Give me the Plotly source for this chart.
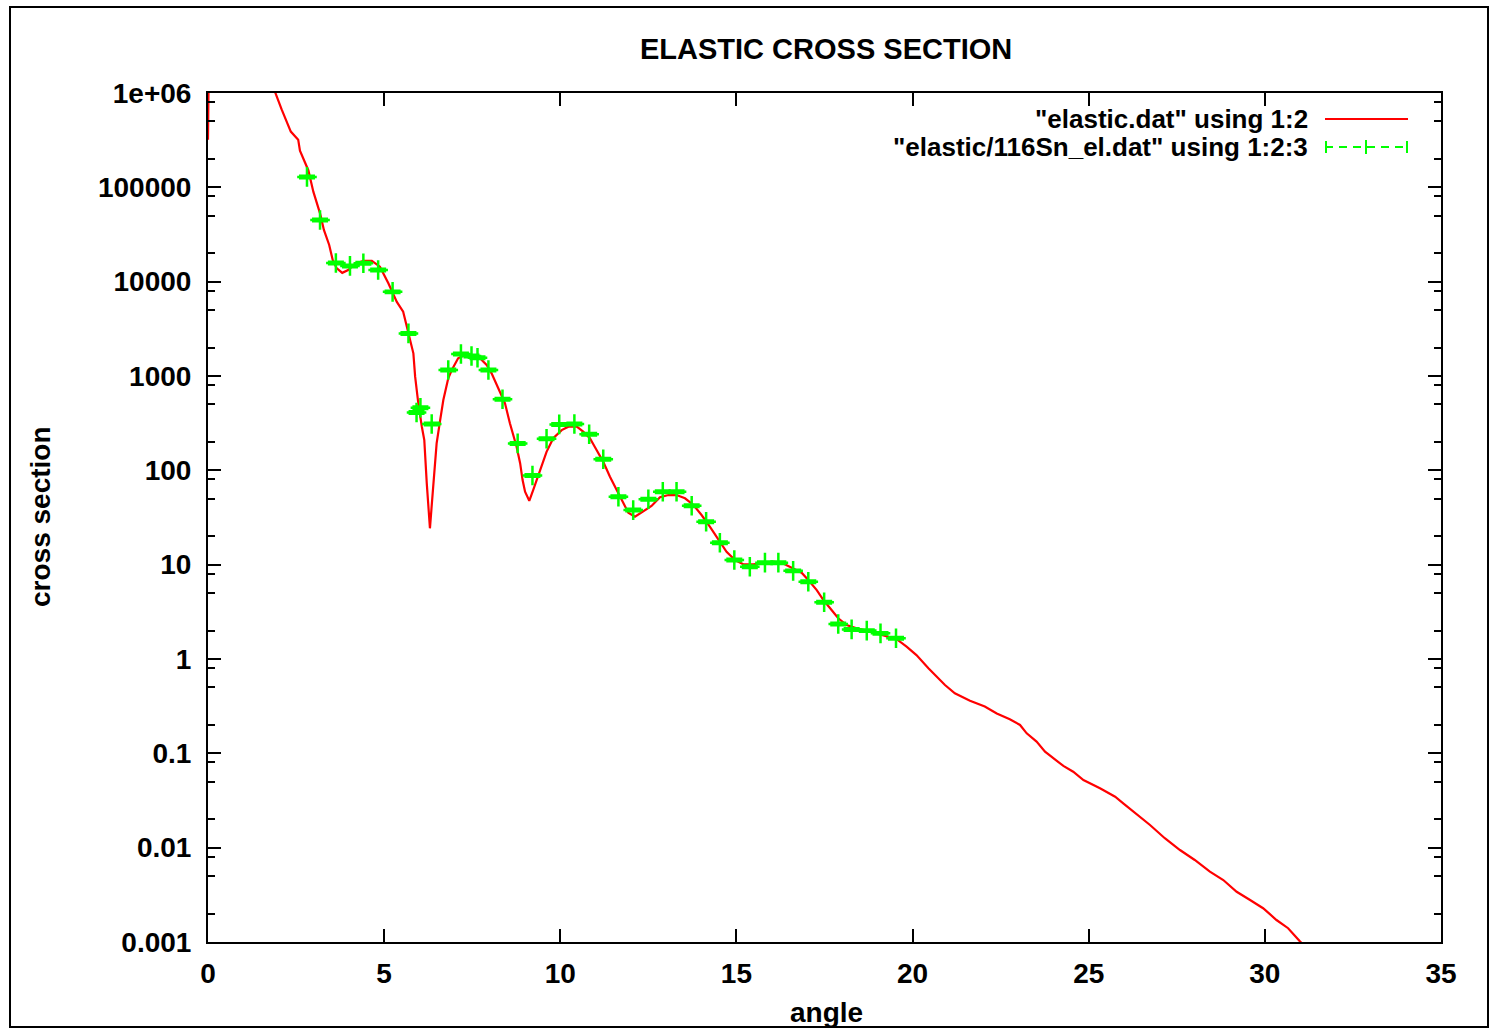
import plotly.graph_objects as go

# ---- data ----
calc_angle = [0.00, 0.06, 1.0, 1.90, 2.09, 2.35, 2.56, 2.61, 2.85, 2.99, 3.18, 3.29, 3.44, 3.54, 3.65, 3.81,
              3.98, 4.17, 4.41, 4.65, 4.88, 5.12, 5.36, 5.54, 5.64, 5.83, 5.88, 5.97, 6.07, 6.14,
              6.21, 6.30, 6.40, 6.49, 6.59, 6.68, 6.82, 6.92, 7.10, 7.30, 7.53, 7.72, 7.91, 8.05,
              8.24, 8.43, 8.57, 8.76, 8.86, 8.93, 9.00, 9.12, 9.23, 9.42, 9.61, 9.80, 10.04, 10.23,
              10.47, 10.65, 10.84, 11.03, 11.22, 11.41, 11.60, 11.79, 11.93, 12.12, 12.36, 12.59,
              12.83, 13.07, 13.30, 13.54, 13.78, 14.01, 14.25, 14.49, 14.72, 14.96, 15.19, 15.48,
              15.76, 16.05, 16.33, 16.61, 16.85, 17.04, 17.28, 17.47, 17.70, 17.89, 18.13, 18.41,
              18.70, 18.98, 19.26, 19.55, 19.83, 20.11, 20.45, 20.92, 21.20, 21.63, 22.05, 22.39,
              22.76, 23.05, 23.24, 23.52, 23.76, 23.99, 24.28, 24.56, 24.85, 25.32, 25.75, 25.98,
              26.36, 26.74, 27.16, 27.59, 28.01, 28.44, 28.82, 29.20, 29.58, 29.95, 30.33, 30.66,
              31.00, 31.30]
calc_xs = [3.2e5, 5e7, 8e6, 1.0e6, 6.7e5, 3.9e5, 3.2e5, 2.45e5, 1.51e5, 9.0e4, 5.3e4, 3.53e4, 2.45e4, 1.70e4,
           1.39e4, 1.24e4, 1.33e4, 1.54e4, 1.66e4, 1.66e4, 1.44e4, 9.6e3, 6.1e3, 4.8e3, 3.33e3,
           1.74e3, 984, 513, 290, 209, 72.8, 24.3, 72.8, 193, 341, 556, 944, 1156, 1542, 1671,
           1629, 1542, 1309, 1067, 741, 513, 315, 178, 119, 78.9, 59.3, 47.6, 61.8, 101, 157,
           219, 267, 290, 290, 257, 219, 164, 123, 85.5, 61.8, 44.7, 35.6, 32.3, 36.5, 41.9,
           51.8, 54.7, 54.7, 50.5, 42.9, 33.6, 25.2, 18.2, 13.7, 11.2, 10.1, 10.1, 10.5, 10.8,
           10.3, 9.14, 8.22, 6.87, 5.38, 4.22, 3.30, 2.70, 2.29, 2.11, 2.00, 1.87, 1.75, 1.62,
           1.35, 1.10, 0.796, 0.530, 0.433, 0.361, 0.313, 0.265, 0.230, 0.200, 0.163, 0.133,
           0.104, 0.0885, 0.0735, 0.0638, 0.0521, 0.0426, 0.0347, 0.0295, 0.0228, 0.0174,
           0.0126, 0.00944, 0.00740, 0.00556, 0.00454, 0.00341, 0.00279, 0.00228, 0.00171,
           0.00140, 0.00101, 0.00079]

exp_angle = [2.81, 3.18, 3.63, 4.03, 4.41, 4.83, 5.24, 5.69, 5.92, 6.03, 6.35, 6.82, 7.18, 7.48, 7.65,
             7.96, 8.36, 8.79, 9.21, 9.61, 9.97, 10.40, 10.82, 11.22, 11.65, 12.07, 12.50, 12.91,
             13.30, 13.73, 14.14, 14.53, 14.94, 15.38, 15.81, 16.19, 16.61, 17.04, 17.49, 17.89,
             18.27, 18.70, 19.09, 19.53]
exp_xs = [1.29e5, 4.5e4, 1.58e4, 1.47e4, 1.57e4, 1.33e4, 7.8e3, 2.83e3, 410, 460, 310, 1157, 1710,
          1630, 1560, 1157, 566, 193, 88, 216, 307, 310, 241, 131, 52.5, 37.9, 49.3, 59.3, 59.3,
          42.2, 28.5, 17.1, 11.2, 9.5, 10.5, 10.5, 8.6, 6.6, 3.99, 2.35, 2.06, 2.0, 1.87, 1.66]

x_ticks = [0, 5, 10, 15, 20, 25, 30, 35]
y_tickvals = [1e6, 1e5, 1e4, 1e3, 1e2, 1e1, 1, 0.1, 0.01, 0.001]
y_ticktext = ["1e+06", "100000", "10000", "1000", "100", "10", "1", "0.1", "0.01", "0.001"]
y_minor = [m * 10 ** e for e in range(-3, 6) for m in (2, 5, 8)]

title_text = "ELASTIC CROSS SECTION"
legend_texts = ['"elastic.dat" using 1:2', '"elastic/116Sn_el.dat" using 1:2:3']

RED = "#ff0000"
GREEN = "#00ff00"
FONT = "Liberation Sans"
FS = 28

fig = go.Figure()
fig.add_trace(go.Scatter(x=calc_angle, y=calc_xs, mode="lines",
                         line=dict(color=RED, width=2.2), showlegend=False))
fig.add_trace(go.Scatter(x=exp_angle, y=exp_xs, mode="markers",
                         marker=dict(symbol="cross-thin", size=14, line=dict(color=GREEN, width=2.5)),
                         error_y=dict(type="percent", value=3, color=GREEN, thickness=2.5, width=8),
                         showlegend=False))

axis_common = dict(showline=True, linecolor="black", linewidth=2, mirror="allticks",
                   ticks="inside", ticklen=13, tickwidth=2, tickcolor="black",
                   showgrid=False, zeroline=False,
                   tickfont=dict(family=FONT, size=FS, color="black", weight="bold"))

fig.update_xaxes(range=[0, 35], tickvals=x_ticks, ticktext=[str(v) for v in x_ticks],
                 ticklabelstandoff=5, **axis_common)
fig.update_yaxes(type="log", range=[-3, 6], tickvals=y_tickvals, ticktext=y_ticktext,
                 ticklabelstandoff=9,
                 minor=dict(tickvals=y_minor, ticks="inside", ticklen=7, tickwidth=2, tickcolor="black"),
                 **axis_common)

L, R, T, B = 208, 1441, 93, 942
W, H = 1493, 1029

def px(xp):
    return (xp - L) / (R - L)

def py(yp):
    return (B - yp) / (B - T)

shapes = [
    # outer border
    dict(type="rect", xref="paper", yref="paper", x0=px(10), x1=px(1488), y0=py(1027), y1=py(7),
         line=dict(color="black", width=2), layer="below"),
    # legend samples
    dict(type="line", xref="paper", yref="paper", x0=px(1325), x1=px(1408), y0=py(119), y1=py(119),
         line=dict(color=RED, width=2.2)),
    dict(type="line", xref="paper", yref="paper", x0=px(1325), x1=px(1408), y0=py(147), y1=py(147),
         line=dict(color=GREEN, width=2, dash="8px,6px")),
    dict(type="line", xref="paper", yref="paper", x0=px(1326), x1=px(1326), y0=py(141), y1=py(153),
         line=dict(color=GREEN, width=2)),
    dict(type="line", xref="paper", yref="paper", x0=px(1407), x1=px(1407), y0=py(141), y1=py(153),
         line=dict(color=GREEN, width=2)),
    dict(type="line", xref="paper", yref="paper", x0=px(1366), x1=px(1366), y0=py(140), y1=py(154),
         line=dict(color=GREEN, width=2)),
]

annotations = [
    dict(text=legend_texts[0], xref="paper", yref="paper", x=px(1310), y=py(119),
         xanchor="right", yanchor="middle", showarrow=False,
         font=dict(family=FONT, size=26, color="black", weight="bold")),
    dict(text=legend_texts[1], xref="paper", yref="paper", x=px(1310), y=py(147),
         xanchor="right", yanchor="middle", showarrow=False,
         font=dict(family=FONT, size=26, color="black", weight="bold")),
    dict(text="angle", xref="paper", yref="paper", x=px(826), y=py(1013),
         xanchor="center", yanchor="middle", showarrow=False,
         font=dict(family=FONT, size=FS, color="black", weight="bold")),
    dict(text="cross section", xref="paper", yref="paper", x=px(40), y=py(517),
         xanchor="center", yanchor="middle", showarrow=False, textangle=-90,
         font=dict(family=FONT, size=FS, color="black", weight="bold")),
    dict(text=title_text, xref="paper", yref="paper", x=px(826), y=py(49),
         xanchor="center", yanchor="middle", showarrow=False,
         font=dict(family=FONT, size=29, color="black", weight="bold")),
]

fig.update_layout(width=W, height=H, margin=dict(l=L, r=W - R, t=T, b=H - B, pad=0),
                  plot_bgcolor="white", paper_bgcolor="white",
                  shapes=shapes, annotations=annotations, showlegend=False)

fig.write_html("out.html")
